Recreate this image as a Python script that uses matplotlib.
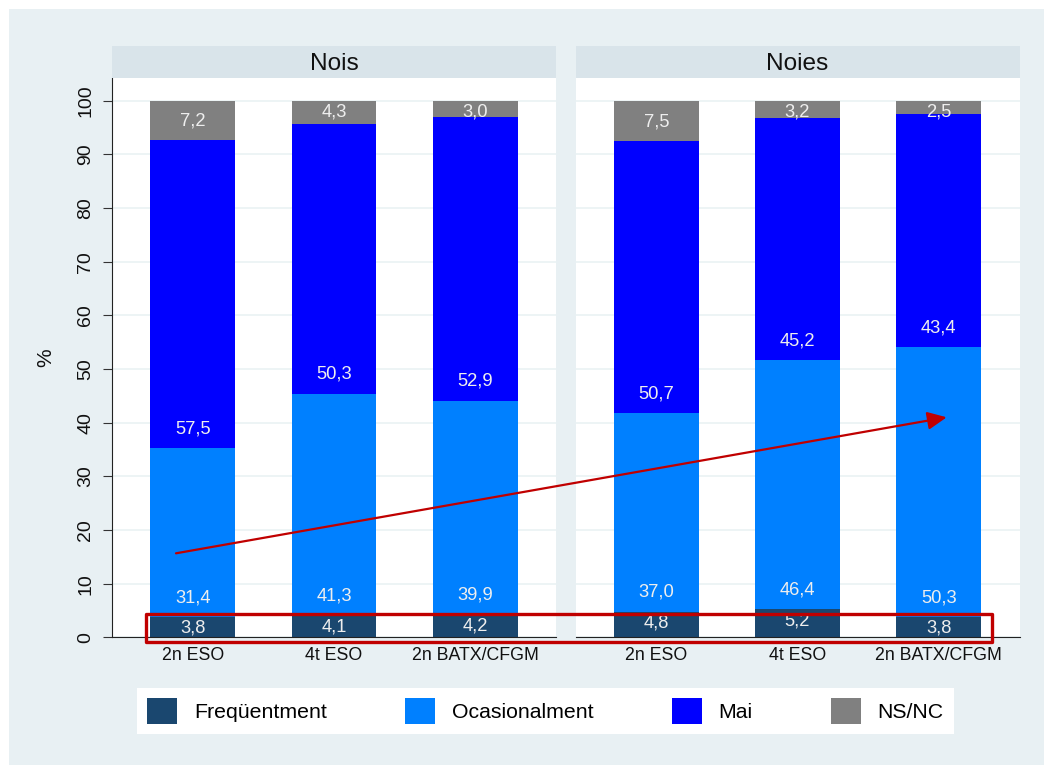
import matplotlib
matplotlib.use("Agg")
import matplotlib.pyplot as plt
from matplotlib import patches
from matplotlib.patches import Patch, ArrowStyle

plt.rcParams['font.family'] = ['Liberation Sans', 'DejaVu Sans']

# dades
grups = ['2n ESO', '4t ESO', '2n BATX/CFGM']
panells = ['Nois', 'Noies']
categories = ['Freqüentment', 'Ocasionalment', 'Mai', 'NS/NC']
colors = ['#1a476f', '#0080ff', '#0000ff', '#808080']

nois_freq = [3.8, 4.1, 4.2]
nois_ocas = [31.4, 41.3, 39.9]
nois_mai = [57.5, 50.3, 52.9]
nois_nsnc = [7.2, 4.3, 3.0]

noies_freq = [4.8, 5.2, 3.8]
noies_ocas = [37.0, 46.4, 50.3]
noies_mai = [50.7, 45.2, 43.4]
noies_nsnc = [7.5, 3.2, 2.5]

yticks = list(range(0, 101, 10))

fons = '#e8f0f3'
franja = '#d9e4ea'
vermell = '#c00000'

W, H = 1044, 765
fig = plt.figure(figsize=(W / 100, H / 100), dpi=100)
fig.patch.set_facecolor('white')
fig.add_artist(patches.Rectangle((9 / W, 0), 1 - 9 / W, 1 - 9 / H,
                                 transform=fig.transFigure, facecolor=fons,
                                 edgecolor='none', zorder=-10))


def px(x, y):
    return x / W, 1 - y / H


baix = (H - 637.3) / H
alt = (637.3 - 78) / H
esquerres = [112, 575.5]
amplada = 444 / W

dades = [
    [nois_freq, nois_ocas, nois_mai, nois_nsnc],
    [noies_freq, noies_ocas, noies_mai, noies_nsnc],
]

for i, nom in enumerate(panells):
    ax = fig.add_axes([esquerres[i] / W, baix, amplada, alt])
    ax.set_facecolor('white')
    x = list(range(len(grups)))
    base = [0.0] * len(grups)
    for serie, color in zip(dades[i], colors):
        ax.bar(x, serie, bottom=base, width=0.6, color=color, linewidth=0, zorder=2)
        for xi, b, v in zip(x, base, serie):
            yl = min(b + 3.6, b + v - 2.1)
            ax.text(xi, yl, f"{v:.1f}".replace('.', ','), ha='center', va='center',
                    color='#eeeeee', fontsize=13.2, zorder=3)
        base = [b + v for b, v in zip(base, serie)]

    ax.set_xlim(-0.572, 2.572)
    ax.set_ylim(0, 104.23)
    ax.set_yticks(yticks)
    ax.yaxis.grid(True, color='#eaf2f3', linewidth=1.2)
    ax.set_axisbelow(True)
    ax.set_xticks(x)
    ax.set_xticklabels(grups, fontsize=12.8, color='#111111')
    ax.tick_params(axis='x', length=0, pad=6.7)
    for s in ['top', 'right']:
        ax.spines[s].set_visible(False)
    ax.spines['bottom'].set_color('#222222')
    ax.spines['bottom'].set_linewidth(0.8)
    if i == 0:
        ax.spines['left'].set_color('#222222')
        ax.spines['left'].set_linewidth(0.8)
        ax.tick_params(axis='y', length=6.5, width=0.8, color='#333333', pad=6.2,
                       labelsize=14, labelcolor='#111111')
        for t in ax.get_yticklabels():
            t.set_rotation(90)
            t.set_va('center')
        ax.set_ylabel('%', fontsize=15, color='#111111', labelpad=16)
    else:
        ax.spines['left'].set_visible(False)
        ax.tick_params(axis='y', left=False, labelleft=False)

    cap = fig.add_axes([esquerres[i] / W, (H - 78) / H, amplada, 32 / H])
    cap.set_facecolor(franja)
    cap.set_xticks([])
    cap.set_yticks([])
    for s in cap.spines.values():
        s.set_visible(False)
    cap.text(0.5, 0.45, nom, ha='center', va='center', fontsize=17.6,
             color='#111111', transform=cap.transAxes)

# llegenda
fs = 15.3
handles = [Patch(facecolor=c, edgecolor='none') for c in colors]
leg = fig.legend(handles, categories, loc='center', bbox_to_anchor=px(545.5, 711),
                 ncol=4, fontsize=fs, frameon=True, fancybox=False,
                 handlelength=1.41, handleheight=1.5, handletextpad=0.8,
                 columnspacing=3.67, borderpad=0.47, borderaxespad=0)
leg.get_frame().set_facecolor('white')
leg.get_frame().set_edgecolor('none')
leg.get_frame().set_alpha(1)

# anotacions en vermell
fletxa = patches.FancyArrowPatch(px(176, 553.3), px(946.7, 417.3),
                                 transform=fig.transFigure,
                                 arrowstyle=ArrowStyle('-|>', head_length=0.58, head_width=0.27),
                                 mutation_scale=20, color=vermell, lw=1.6,
                                 shrinkA=0, shrinkB=0, zorder=5)
fig.add_artist(fletxa)
x0, y0 = px(146, 642.3)
x1, y1 = px(992.3, 614)
fig.add_artist(patches.Rectangle((x0, y0), x1 - x0, y1 - y0, transform=fig.transFigure,
                                 fill=False, edgecolor=vermell, lw=2.4,
                                 joinstyle='round', zorder=5))

fig.savefig('out.png', dpi=100)
